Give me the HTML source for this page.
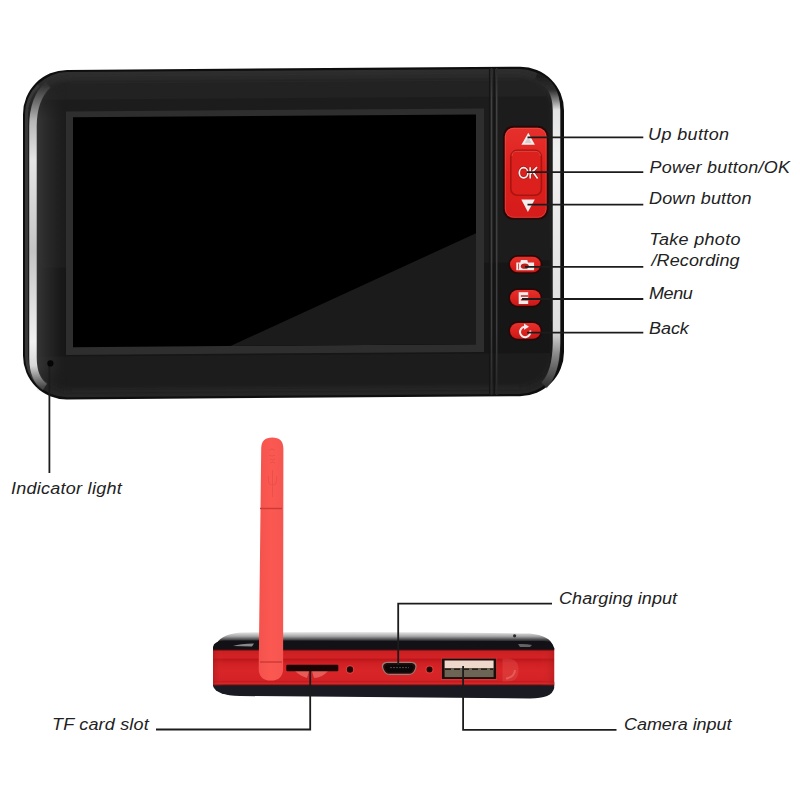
<!DOCTYPE html>
<html><head><meta charset="utf-8">
<style>
html,body{margin:0;padding:0;background:#fff;width:800px;height:800px;overflow:hidden}
svg{display:block}
text{font-family:"Liberation Sans",sans-serif;font-style:italic;font-size:17px;fill:#222}
</style></head><body>
<svg width="800" height="800" viewBox="0 0 800 800">
<defs>
  <linearGradient id="bodyG" x1="0" y1="0" x2="0" y2="1">
    <stop offset="0" stop-color="#262626"/>
    <stop offset="0.12" stop-color="#1b1b1b"/>
    <stop offset="0.88" stop-color="#191919"/>
    <stop offset="1" stop-color="#202020"/>
  </linearGradient>
  <linearGradient id="ringG" x1="0" y1="0" x2="0" y2="1">
    <stop offset="0" stop-color="#2e2e2e"/>
    <stop offset="0.15" stop-color="#222"/>
    <stop offset="0.85" stop-color="#1c1c1c"/>
    <stop offset="1" stop-color="#262626"/>
  </linearGradient>
  <linearGradient id="hlL" gradientUnits="userSpaceOnUse" x1="0" y1="83" x2="0" y2="385">
    <stop offset="0" stop-color="#303030"/>
    <stop offset="0.06" stop-color="#707070"/>
    <stop offset="0.12" stop-color="#b8b8b8"/>
    <stop offset="0.25" stop-color="#e6e6e6"/>
    <stop offset="0.55" stop-color="#c4c4c4"/>
    <stop offset="0.85" stop-color="#f2f2f2"/>
    <stop offset="0.93" stop-color="#d8d8d8"/>
    <stop offset="1" stop-color="#4a4a4a"/>
  </linearGradient>
  <linearGradient id="hlR" gradientUnits="userSpaceOnUse" x1="0" y1="78" x2="0" y2="387">
    <stop offset="0" stop-color="#1e1e1e"/>
    <stop offset="0.045" stop-color="#2e2e2e"/>
    <stop offset="0.08" stop-color="#8a8a8a"/>
    <stop offset="0.11" stop-color="#e4e4e4"/>
    <stop offset="0.25" stop-color="#f0f0f0"/>
    <stop offset="0.6" stop-color="#e6e6e6"/>
    <stop offset="0.82" stop-color="#e0e0e0"/>
    <stop offset="0.9" stop-color="#8a8a8a"/>
    <stop offset="1" stop-color="#333"/>
  </linearGradient>
  <linearGradient id="topG" gradientUnits="userSpaceOnUse" x1="0" y1="631.5" x2="0" y2="642">
    <stop offset="0" stop-color="#f0f0f0"/>
    <stop offset="0.45" stop-color="#a8a8a8"/>
    <stop offset="0.75" stop-color="#505054"/>
    <stop offset="1" stop-color="#141418"/>
  </linearGradient>
  <linearGradient id="capG" gradientUnits="userSpaceOnUse" x1="0" y1="632" x2="0" y2="649">
    <stop offset="0" stop-color="#c4c4c4"/>
    <stop offset="0.25" stop-color="#8a8a8a"/>
    <stop offset="0.48" stop-color="#18181c"/>
    <stop offset="1" stop-color="#101014"/>
  </linearGradient>
  <linearGradient id="redG" gradientUnits="userSpaceOnUse" x1="0" y1="648" x2="0" y2="686">
    <stop offset="0" stop-color="#b8242a"/>
    <stop offset="0.1" stop-color="#cc1f22"/>
    <stop offset="0.25" stop-color="#d32226"/>
    <stop offset="0.3" stop-color="#bd171b"/>
    <stop offset="0.4" stop-color="#d02024"/>
    <stop offset="0.6" stop-color="#d82528"/>
    <stop offset="0.85" stop-color="#d42226"/>
    <stop offset="0.89" stop-color="#c01a1c"/>
    <stop offset="0.93" stop-color="#dc2a2c"/>
    <stop offset="1" stop-color="#4a0608"/>
  </linearGradient>
  <linearGradient id="redH" x1="0" y1="0" x2="1" y2="0">
    <stop offset="0" stop-color="#a01818" stop-opacity="0.5"/>
    <stop offset="0.03" stop-color="#e03030" stop-opacity="0"/>
    <stop offset="0.96" stop-color="#e03030" stop-opacity="0"/>
    <stop offset="1" stop-color="#a01818" stop-opacity="0.4"/>
  </linearGradient>
  <linearGradient id="antG" x1="0" y1="0" x2="1" y2="0">
    <stop offset="0" stop-color="#f4524c"/>
    <stop offset="0.5" stop-color="#fb5852"/>
    <stop offset="1" stop-color="#f65650"/>
  </linearGradient>
  <linearGradient id="btnG" x1="0" y1="0" x2="0" y2="1">
    <stop offset="0" stop-color="#e6302c"/>
    <stop offset="0.5" stop-color="#de1f1d"/>
    <stop offset="1" stop-color="#d41c1a"/>
  </linearGradient>
  <linearGradient id="btnS" x1="0" y1="0" x2="0" y2="1">
    <stop offset="0" stop-color="#e6322c"/>
    <stop offset="0.6" stop-color="#dc201d"/>
    <stop offset="1" stop-color="#c41a18"/>
  </linearGradient>
  <linearGradient id="divG" gradientUnits="userSpaceOnUse" x1="0" y1="70" x2="0" y2="396">
    <stop offset="0" stop-color="#2a2a2a"/>
    <stop offset="0.1" stop-color="#424242"/>
    <stop offset="0.8" stop-color="#3e3e3e"/>
    <stop offset="1" stop-color="#262626"/>
  </linearGradient>
  <linearGradient id="faceL" x1="0" y1="0" x2="1" y2="0">
    <stop offset="0" stop-color="#3a3a3a" stop-opacity="0.85"/>
    <stop offset="0.45" stop-color="#2e2e2e" stop-opacity="0.6"/>
    <stop offset="1" stop-color="#222" stop-opacity="0"/>
  </linearGradient>
  <linearGradient id="faceMG" x1="0" y1="0" x2="0" y2="1">
    <stop offset="0" stop-color="#fff" stop-opacity="0"/>
    <stop offset="0.12" stop-color="#fff" stop-opacity="1"/>
    <stop offset="0.92" stop-color="#fff" stop-opacity="1"/>
    <stop offset="1" stop-color="#fff" stop-opacity="0"/>
  </linearGradient>
  <mask id="faceMask" maskUnits="userSpaceOnUse" x="0" y="0" width="800" height="800"><rect x="37" y="80" width="30" height="310" fill="url(#faceMG)"/></mask>
  <filter id="blur07" x="-50%" y="-10%" width="200%" height="120%"><feGaussianBlur stdDeviation="0.7"/></filter>
  <filter id="blur2" x="-10%" y="-10%" width="120%" height="120%"><feGaussianBlur stdDeviation="2"/></filter>
  <filter id="blur1" x="-50%" y="-10%" width="200%" height="120%"><feGaussianBlur stdDeviation="1"/></filter>
</defs>

<!-- ============ UPPER DEVICE ============ -->
<g transform="matrix(1 -0.0070 0 1 0 2.051)">
<rect x="23" y="68.3" width="541" height="329.5" rx="44" ry="44" fill="#0e0e0e"/>
<rect x="25.2" y="70.5" width="535.6" height="325.1" rx="42" ry="42" fill="url(#ringG)"/>
<rect x="37" y="77" width="516" height="312" rx="34" ry="34" fill="url(#bodyG)" filter="url(#blur2)"/>
<!-- left face shading -->
<rect x="37" y="80" width="30" height="310" fill="url(#faceL)" mask="url(#faceMask)"/>
<path d="M38.4 83.7 A40.5 40.5 0 0 0 26.5 112.3 L26.5 353.8 A40.5 40.5 0 0 0 38.4 382.4" fill="none" stroke="#383838" stroke-width="3" filter="url(#blur07)"/>
<!-- left glossy highlight -->
<path d="M48 83 Q33 97 33 124 L33 356 Q33 377 45 385" fill="none" stroke="url(#hlL)" stroke-width="7.5" filter="url(#blur07)"/>
<!-- right glossy highlight -->
<path d="M536 78 Q556.5 86 556.5 112 L556.5 345 Q556 375 544 387" fill="none" stroke="url(#hlR)" stroke-width="7.5" filter="url(#blur07)"/>
<!-- divider grooves -->
<line x1="489.6" y1="69.5" x2="489.6" y2="396.5" stroke="#151515" stroke-width="1.3"/>
<line x1="494.2" y1="69.5" x2="494.2" y2="396.5" stroke="#141414" stroke-width="1.6"/>
<line x1="491.5" y1="69.5" x2="491.5" y2="396.5" stroke="url(#divG)" stroke-width="1.5"/>
<line x1="496.7" y1="69.5" x2="496.7" y2="396.5" stroke="url(#divG)" stroke-width="1.5"/>
<!-- screen bezel -->
<rect x="66" y="109.8" width="418" height="243.5" fill="#2e2e2e"/>
<rect x="73" y="115.8" width="403" height="229.8" fill="#000"/>
<polygon points="230.5,345.6 476,345.6 476,234.5" fill="#1b1b1b"/>
<!-- indicator dot -->
</g>

<!-- red buttons -->
<rect x="502.8" y="125.8" width="45.8" height="94" rx="10.5" fill="#2a0707"/>
<rect x="504.8" y="127.8" width="41.8" height="90" rx="8.8" fill="url(#btnG)"/>
<rect x="505.3" y="128.3" width="40.8" height="89" rx="8.3" fill="none" stroke="#f07a70" stroke-opacity="0.35" stroke-width="1"/>
<rect x="510.8" y="150.3" width="30.6" height="45" rx="6.5" fill="#dc201e" stroke="#a8150f" stroke-width="1.6"/>
<path d="M512 156 Q512 151.3 517 151.3 L535 151.3 Q540.3 151.3 540.3 156" fill="none" stroke="#f07068" stroke-width="0.9" opacity="0.5"/>
<polygon points="521.4,144.7 534.9,144.7 528.3,132.7" fill="#f6eeee"/>
<polygon points="524.5,143.2 531.8,143.2 528.2,137" fill="#c8b8b8" opacity="0.6"/>
<polygon points="521.3,199.6 534.8,199.6 527.9,211.9" fill="#f6eeee"/>
<g fill="none" stroke-linecap="butt">
  <g stroke="#7a0c0a" stroke-width="3.2" opacity="0.45">
    <ellipse cx="523.6" cy="172.8" rx="4.3" ry="5.1"/>
    <path d="M530.2 167.2 V178.4 M537 167.2 L530.6 173.6 M532.6 171.6 L537.6 178.4"/>
  </g>
  <g stroke="#faf0f0" stroke-width="1.7">
    <ellipse cx="523.6" cy="172.8" rx="4.3" ry="5.1"/>
    <path d="M530.2 167.2 V178.4 M537 167.2 L530.6 173.6 M532.6 171.6 L537.6 178.4"/>
  </g>
</g>

<rect x="508.3" y="255" width="34" height="19" rx="9.5" fill="#2a0707"/>
<rect x="510" y="256.7" width="30.6" height="15.6" rx="7.8" fill="url(#btnS)"/>
<rect x="508.3" y="288.2" width="34" height="19.3" rx="9.6" fill="#2a0707"/>
<rect x="510" y="289.9" width="30.6" height="15.9" rx="7.9" fill="url(#btnS)"/>
<rect x="508.3" y="321.2" width="34" height="19.3" rx="9.6" fill="#2a0707"/>
<rect x="510" y="322.9" width="30.6" height="15.9" rx="7.9" fill="url(#btnS)"/>
<!-- camera icon -->
<path d="M516.3 262.5 h4 l0.6 -2.4 h6.4 l0.6 2.4 h6.2 v7.7 h-17.8 z" fill="#f4ecec"/>
<ellipse cx="524.8" cy="266.2" rx="4" ry="2.6" fill="#b8201a"/>
<rect x="518" y="263.5" width="0.9" height="6" fill="#d84038"/>
<!-- menu icon -->
<rect x="518.7" y="292.2" width="9.5" height="11.8" fill="#f4ecec"/>
<rect x="520.8" y="295.2" width="7.4" height="1.6" fill="#c8302a"/>
<rect x="520.8" y="299" width="7.4" height="1.6" fill="#c8302a"/>
<!-- back icon -->
<path d="M530.2 330.5 A5.2 5.2 0 1 1 524.6 326.8" fill="none" stroke="#f4ecec" stroke-width="2"/>
<polygon points="524,323.5 529,326.8 524,329.8" fill="#f4ecec"/>

<!-- ============ LOWER DEVICE ============ -->
<!-- bottom black -->
<path d="M213 682 L554.2 682 L554.2 688 Q552 698.5 530 698.5 L240 696 Q216 695.5 213 686 Z" fill="#1a1a22"/>
<!-- red band -->
<rect x="213" y="648" width="341.2" height="37.5" fill="url(#redG)"/>
<rect x="213" y="648" width="341.2" height="37.5" fill="url(#redH)"/>
<!-- top surface + cap -->
<path d="M216 646 Q218 635 240 632.5 Q380 631 530 633.5 Q550 635.5 553 646 Z" fill="url(#topG)"/>
<path d="M213 650 L213 647 Q214 641 224 640.5 L543 641 Q553 641.5 554.2 648 L554.2 650 Z" fill="#121216"/>
<line x1="213" y1="650" x2="554" y2="650" stroke="#5a0c0c" stroke-width="1.2"/>
<!-- cap reflections -->
<path d="M233 646 Q240 643.5 254 643.5 L252 646.5 Z" fill="#a8a8a8" opacity="0.8"/>
<path d="M518 644 Q526 643.5 532 645 L530 647 L520 647 Z" fill="#999" opacity="0.6"/>
<circle cx="514.6" cy="635.8" r="1.6" fill="#2a2a2a"/>
<!-- red reflection arc -->
<path d="M502.5 658.5 L508 658.5 Q518.5 659 518.5 670 Q518.5 681.5 508 681.5 L502.5 681.5 Z" fill="#f07a72" opacity="0.22"/>
<path d="M506 678.5 Q514.5 677 515 670" fill="none" stroke="#f8a098" stroke-width="2" opacity="0.35"/>
<!-- ports -->
<path d="M295 671 L309 671 L307 678 Q300 676 295 671 Z M312 671 L328 671 Q322 678 314 678 Z" fill="#f48a80" opacity="0.55"/>
<rect x="286.3" y="664.8" width="52" height="6.4" rx="1" fill="#1a0404"/>
<circle cx="350" cy="669.5" r="4.2" fill="#ee5a52" opacity="0.6"/>
<circle cx="350" cy="669.5" r="3.2" fill="#220606"/>
<path d="M388 661.8 L410.5 661.8 C416 661.8 417.5 665 416.2 668.5 C415 672 413 675 408.5 675 L390 675 C385.5 675 383.5 672 382.3 668.5 C381 665 382.5 661.8 388 661.8 Z" fill="#9a7c78"/>
<path d="M388.2 663 L410.3 663 C415 663 416 665.5 415 668.5 C414 671.5 412.5 673.8 408.5 673.8 L390 673.8 C386 673.8 384.5 671.5 383.5 668.5 C382.5 665.5 383.5 663 388.2 663 Z" fill="#2a0c0a"/>
<path d="M388.8 664.4 L409.7 664.4 C413.2 664.4 414 666.2 413.2 668.6 C412.4 671 411.2 672.4 408.2 672.4 L390.3 672.4 C387.3 672.4 386.1 671 385.3 668.6 C384.5 666.2 385.3 664.4 388.8 664.4 Z" fill="#0a0808"/>
<line x1="390" y1="667.6" x2="409" y2="667.6" stroke="#5a5050" stroke-width="0.9" stroke-dasharray="2 1"/>
<circle cx="429.5" cy="669.6" r="4" fill="#ee5a52" opacity="0.5"/>
<circle cx="429.5" cy="669.6" r="3" fill="#220606"/>
<rect x="441" y="657.8" width="56" height="22" fill="#e86a66" opacity="0.35"/>
<rect x="441.8" y="658.6" width="54.4" height="20.4" fill="#1e0c0a"/>
<rect x="444.6" y="660.5" width="49" height="7.6" fill="#eed8cc"/>
<rect x="444.6" y="668.1" width="49" height="9" fill="#6c6454"/>
<line x1="445" y1="669.2" x2="493" y2="669.2" stroke="#2a1e1a" stroke-width="1.6" stroke-dasharray="6 3"/>
<!-- antenna -->
<path d="M261.2 449 C261.2 441 265 437.5 272.3 437.5 C279.6 437.5 283.4 441 283.4 449 L283.1 668.5 C283.1 676.5 278.8 680.6 270.9 680.6 C263 680.6 258.7 676.5 258.7 668.5 Z" fill="url(#antG)"/>
<g stroke="#d84a42" stroke-width="0.9" fill="none" opacity="0.55">
  <path d="M269 450 q3 -2 6 0 M269 455 q3 2 6 0 M270 459 q2.5 2 5 0 M270 463 q2.5 -2 5 0"/>
  <path d="M272.5 470 L272.5 497 M268.5 476 L268.5 481 Q268.5 485 272.5 485 Q276.5 485 276.5 481 L276.5 476"/>
</g>
<line x1="260" y1="508.5" x2="282" y2="508.5" stroke="#cc3a34" stroke-width="1.4"/>
<line x1="260" y1="662" x2="282" y2="662" stroke="#cc3a34" stroke-width="1.4"/>

<!-- ============ CALLOUT LINES ============ -->
<g stroke="#1c1c1c" stroke-width="1.8" fill="none">
  <line x1="527.5" y1="137.4" x2="643.3" y2="137.4"/>
  <line x1="527" y1="172.1" x2="643.3" y2="172.1"/>
  <line x1="527.5" y1="204.6" x2="643.3" y2="204.6"/>
  <line x1="525" y1="266.9" x2="643.3" y2="266.9"/>
  <line x1="522" y1="299" x2="643.3" y2="299"/>
  <line x1="527" y1="332.7" x2="643.3" y2="332.7"/>
  <line x1="49.4" y1="365" x2="49.4" y2="473"/>
  <polyline points="310.2,671 310.2,729.5 156,729.5"/>
  <polyline points="398.2,665 398.2,603.7 552,603.7"/>
  <polyline points="463.1,666 463.1,729.8 616.5,729.8"/>
</g>

<circle cx="50.4" cy="363.4" r="3.1" fill="#050505"/>

<!-- ============ LABELS ============ -->
<text transform="translate(648.00 140.00) scale(1.06 1)" style="letter-spacing:0.354px">Up button</text>
<text transform="translate(649.50 173.00) scale(1.06 1)" style="letter-spacing:0.229px">Power button/OK</text>
<text transform="translate(649.00 203.50) scale(1.06 1)" style="letter-spacing:0.132px">Down button</text>
<text transform="translate(649.25 244.50) scale(1.06 1)" style="letter-spacing:0.294px">Take photo</text>
<text transform="translate(651.50 266.25) scale(1.06 1)" style="letter-spacing:0.105px">/Recording</text>
<text transform="translate(649.00 298.50) scale(1.06 1)" style="letter-spacing:-0.377px">Menu</text>
<text transform="translate(649.00 333.50) scale(1.06 1)" style="letter-spacing:-0.063px">Back</text>
<text transform="translate(11.00 493.60) scale(1.06 1)" style="letter-spacing:0.243px">Indicator light</text>
<text transform="translate(52.00 729.60) scale(1.06 1)" style="letter-spacing:0.172px">TF card slot</text>
<text transform="translate(559.00 604.00) scale(1.06 1)" style="letter-spacing:0.073px">Charging input</text>
<text transform="translate(624.00 729.60) scale(1.06 1)" style="letter-spacing:-0.051px">Camera input</text>
</svg>
</body></html>
